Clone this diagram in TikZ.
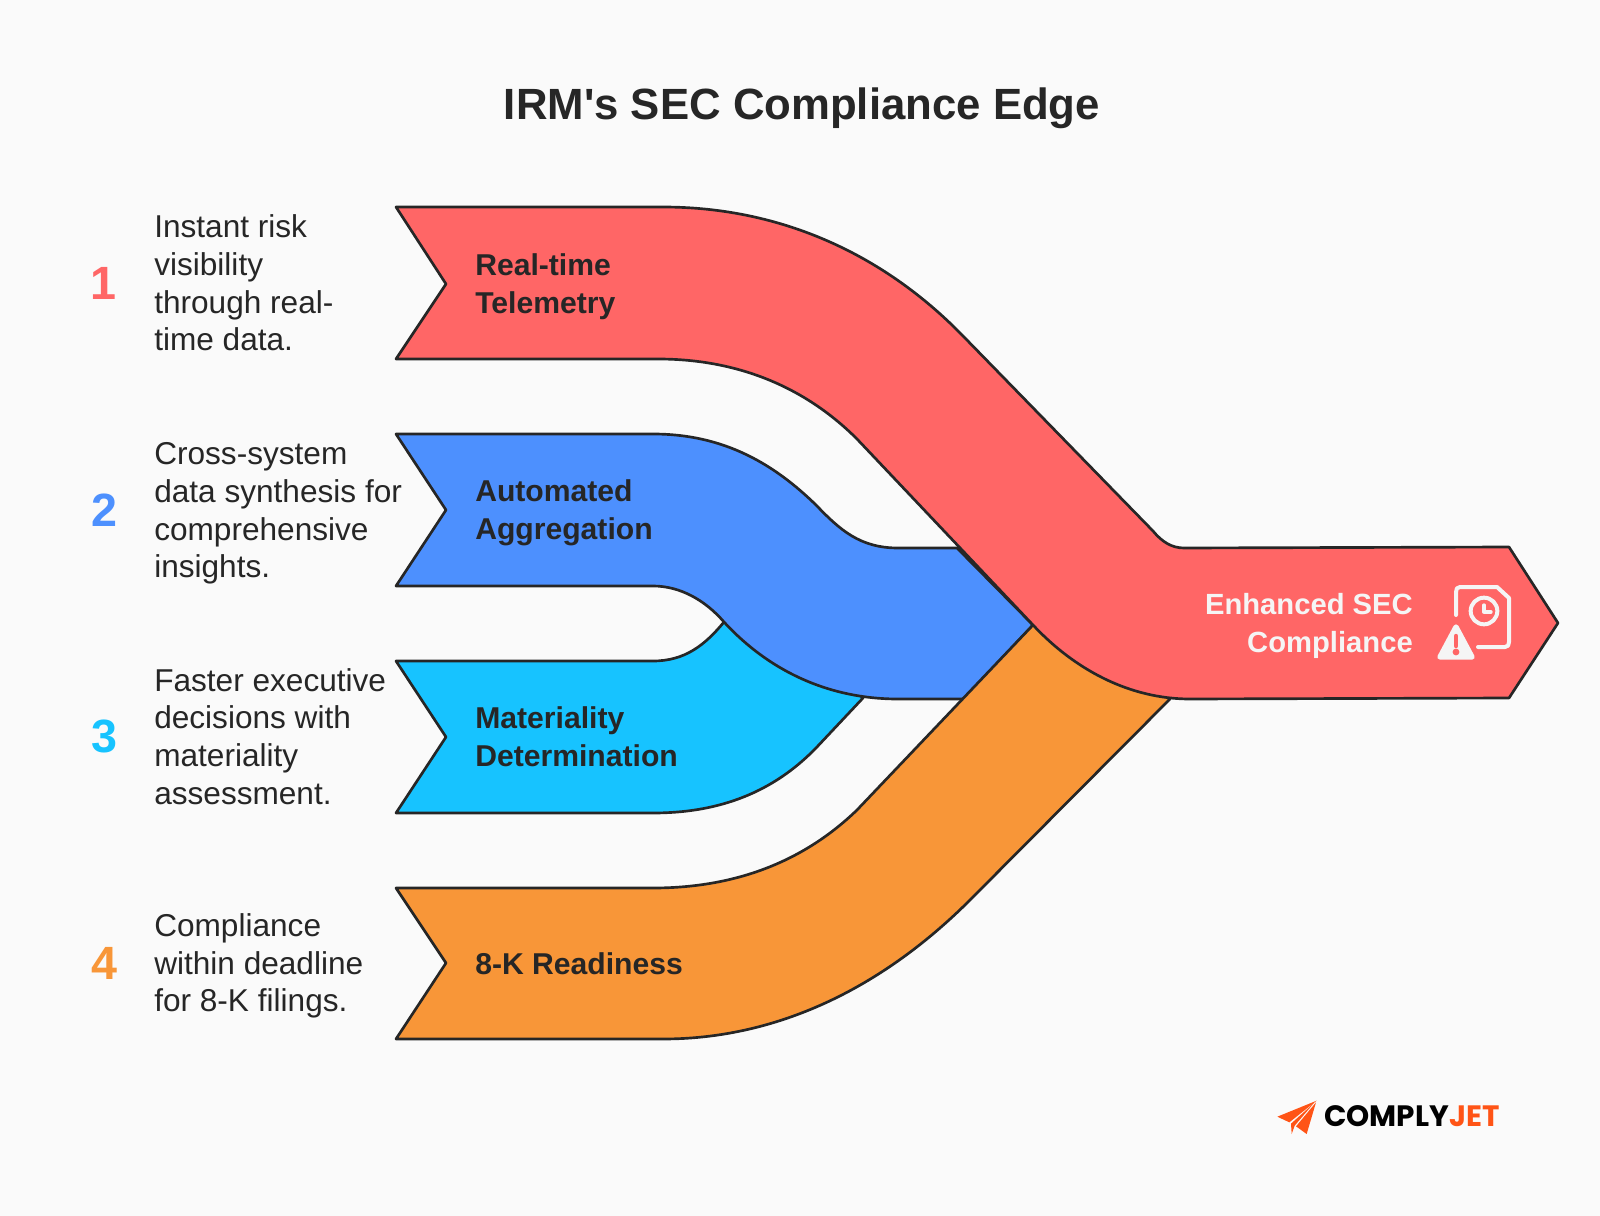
\documentclass[tikz,border=0pt]{standalone}
\usepackage{fontspec}
\setmainfont{Liberation Sans}
\newfontfamily\titlefont{Liberation Sans}
\newfontfamily\logofont{Poppins}
\definecolor{bgc}{HTML}{FAFAFA}
\definecolor{inkc}{HTML}{262626}
\definecolor{redc}{HTML}{FF6666}
\definecolor{bluec}{HTML}{4D90FE}
\definecolor{cyanc}{HTML}{17C3FF}
\definecolor{orangec}{HTML}{F89638}
\definecolor{iconc}{HTML}{F5F5F5}
\definecolor{logoc}{HTML}{FF5416}
\tikzset{
  band/.style={draw=inkc,line width=2pt,line join=round},
  numlabel/.style={font=\fontsize{35}{35}\selectfont\bfseries,inner sep=0pt},
  desc/.style={font=\fontsize{23.7}{28.35}\selectfont,color=inkc,align=left,anchor=west,inner sep=0pt},
  bandlabel/.style={font=\fontsize{22.6}{28.35}\selectfont\bfseries,color=inkc,align=left,anchor=west,inner sep=0pt},
}
\begin{document}
\begin{tikzpicture}[x=0.75pt,y=-0.75pt]
\useasboundingbox (0,0) rectangle (1600,1216);
\fill[bgc] (0,0) rectangle (1600,1216);
\node[font=\titlefont\fontsize{32.8}{36}\selectfont\bfseries,color=inkc,inner sep=0pt] (title) at (802,108) {IRM's SEC Compliance Edge};

% cyan
\draw[band,fill=cyanc] (396,661) -- (446,737) -- (396,813) -- (653,813)
  .. controls (730,813) and (780,785) .. (816,748) -- (863,698) -- (800,640) -- (724,622)
  .. controls (705,645) and (685,661) .. (653,661) -- cycle;
% blue
\draw[band,fill=bluec] (396,434) -- (446,510) -- (396,586) -- (653,586)
  .. controls (680,586) and (705,600) .. (724,622)
  .. controls (770,672) and (830,699) .. (898,699) -- (964,699) -- (1033,625) -- (957,548) -- (898,548)
  .. controls (860,548) and (840,530) .. (816,505)
  .. controls (775,465) and (725,434) .. (653,434) -- cycle;
% orange
\draw[band,fill=orangec] (396,888) -- (446,963) -- (396,1039) -- (663,1039)
  .. controls (775,1039) and (880,990) .. (970,900) -- (1170,699) -- (1100,660) -- (1033,625) -- (857,810)
  .. controls (800,865) and (730,888) .. (653,888) -- cycle;
% red
\draw[band,fill=redc] (396,207) -- (446,284) -- (396,359) -- (658,359)
  .. controls (730,359) and (800,382) .. (857,439) -- (1033,625)
  .. controls (1075,670) and (1130,699) .. (1190,699) -- (1509,698) -- (1558,623) -- (1509,547) -- (1184,548)
  .. controls (1172,548) and (1162,542) .. (1153,531) -- (964,337)
  .. controls (880,250) and (775,207) .. (663,207) -- cycle;

% numbers
\node[numlabel,color=redc] (n1) at (103,283) {1};
\node[numlabel,color=bluec] (n2) at (104,510) {2};
\node[numlabel,color=cyanc] (n3) at (104,736) {3};
\node[numlabel,color=orangec] (n4) at (104,963) {4};

% descriptions
\node[desc] (d1) at (154,283) {Instant risk\\visibility\\through real-\\time data.};
\node[desc] (d2) at (154,513.5) {Cross-system\\data synthesis for\\comprehensive\\insights.};
\node[desc] (d3) at (154,736.5) {Faster executive\\decisions with\\materiality\\assessment.};
\node[desc] (d4) at (154,966) {Compliance\\within deadline\\for 8-K filings.};

% band labels
\node[bandlabel] (b1) at (475,286.5) {Real-time\\Telemetry};
\node[bandlabel] (b2) at (475,512.5) {Automated\\Aggregation};
\node[bandlabel] (b3) at (475,736.5) {Materiality\\Determination};
\node[bandlabel] (b4) at (475,963.5) {8-K Readiness};
\node[font=\fontsize{21.9}{28.35}\selectfont\bfseries,color=iconc,align=right,anchor=east,inner sep=0pt] (b5) at (1413,626) {Enhanced SEC\\Compliance};

% icon
\draw[iconc,line width=3pt,line join=round,line cap=round] (1456,615) -- (1456,592)
  .. controls (1456,589) and (1457,587) .. (1460,587) -- (1497,587) -- (1509,598) -- (1509,642)
  .. controls (1509,645) and (1508,647) .. (1505,647) -- (1478,647);
\node[circle,draw=iconc,line width=3pt,minimum size=20pt,inner sep=0pt] (clock) at (1484,611) {};
\draw[iconc,line width=2.5pt,line join=round,line cap=round] (1484,605) -- (1484,612) -- (1491,612);
\fill[iconc,draw=iconc,line width=4pt,line join=round] (1456,627) -- (1472,657) -- (1440,657) -- cycle;
\draw[redc,line width=3.3pt,line cap=round] (1456,636) -- (1456,646);
\fill[redc] (1456,652) circle (3.4);

% logo
\begin{scope}[shift={(1260,1085)},x=0.25pt,y=-0.25pt]
  \fill[logoc] (52,95) -- (170,47) -- (88,112) -- cycle;
  \fill[logoc] (168,52) -- (140,147) -- (108,124) -- cycle;
  \fill[logoc] (162,54) -- (93,116) -- (95,147) -- (104,122) -- cycle;
\end{scope}
\node[anchor=west,inner sep=0pt,font=\logofont\fontsize{22.1}{22.1}\selectfont\bfseries] (logo) at (1324,1116) {COMPLY\textcolor{logoc}{JET}};
\end{tikzpicture}
\end{document}
